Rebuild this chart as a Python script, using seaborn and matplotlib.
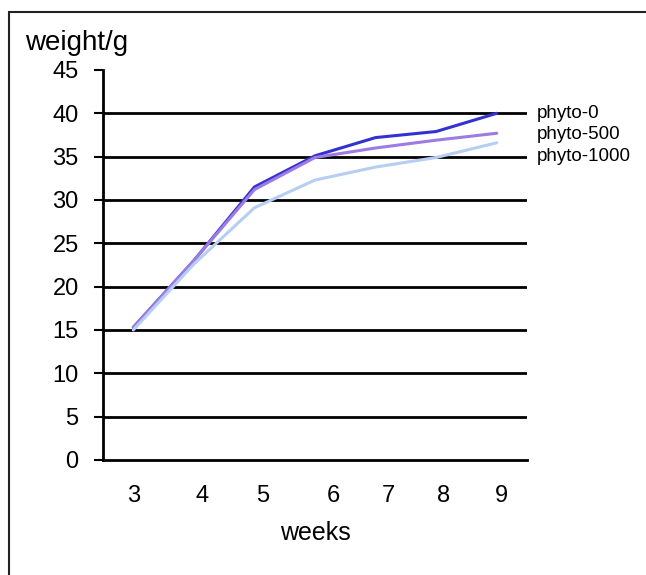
import numpy as np
import pandas as pd
import matplotlib
matplotlib.use("Agg")
import matplotlib.pyplot as plt
from matplotlib.patches import Rectangle
import seaborn as sns

# data
weeks = [3, 4, 5, 6, 7, 8, 9]
phyto_0 = [15.3, 23.0, 31.5, 35.1, 37.2, 37.9, 40.0]
phyto_500 = [15.3, 23.0, 31.2, 34.9, 36.0, 36.9, 37.7]
phyto_1000 = [15.0, 22.6, 29.1, 32.3, 33.8, 34.9, 36.6]
series_names = ["phyto-0", "phyto-500", "phyto-1000"]
series_colors = ["#3232d2", "#9c7ce2", "#b6cef2"]
# x tick labels in the original sit a little off the data points
tick_labels = ["3", "4", "5", "6", "7", "8", "9"]
tick_pos = [3.0, 4.13, 5.14, 6.30, 7.21, 8.13, 9.08]

df = pd.DataFrame({
    "weeks": weeks * 3,
    "weight": phyto_0 + phyto_500 + phyto_1000,
    "group": sum([[n] * len(weeks) for n in series_names], []),
})

sns.set_style("white", {"text.color": "black", "axes.labelcolor": "black",
                        "xtick.color": "black", "ytick.color": "black"})
plt.rcParams['font.family'] = ['Liberation Sans', 'DejaVu Sans']

fig = plt.figure(figsize=(6.46, 5.75), dpi=100)
ax = fig.add_axes([103 / 646, 0.2, (527 - 103) / 646, 0.8783 - 0.2])

sns.lineplot(data=df, x="weeks", y="weight", hue="group", hue_order=series_names,
             palette=series_colors, linewidth=2.2, legend=False, ax=ax)

ax.set_xlim(2.5, 9.5)
ax.set_ylim(0, 45)
ax.set_yticks(range(0, 50, 5))
for y in range(5, 45, 5):
    ax.axhline(y, color="black", lw=2, zorder=0)

ax.set_xticks(tick_pos)
ax.set_xticklabels(tick_labels, fontsize=17)
ax.tick_params(axis="x", length=0, pad=18, labelcolor="black")
ax.tick_params(axis="y", direction="out", length=6.5, width=1.5, color="black",
               labelsize=17, pad=11, left=True, labelcolor="black")
ax.set_xlabel("weeks", fontsize=18, labelpad=10, color="black")
ax.set_ylabel("")

for s in ["top", "right"]:
    ax.spines[s].set_visible(False)
for s in ["left", "bottom"]:
    ax.spines[s].set_color("black")
    ax.spines[s].set_linewidth(2)

fig.text(25 / 646, 1 - 50 / 575, "weight/g", fontsize=20, ha="left",
         va="baseline", color="black")

# end labels like an Excel legend
for name, yv in zip(series_names, [40, 37.5, 35]):
    ax.text(1.023, yv, name, transform=ax.get_yaxis_transform(), fontsize=13.5,
            ha="left", va="center", color="black")

# outer frame (cut off at right/bottom in the reference)
fig.patches.append(Rectangle((9 / 646, -0.1), 1.2, 1 - 12 / 575 + 0.1,
                             transform=fig.transFigure, fill=False,
                             edgecolor="#222222", lw=1.5))

fig.savefig("out.png", dpi=100)
